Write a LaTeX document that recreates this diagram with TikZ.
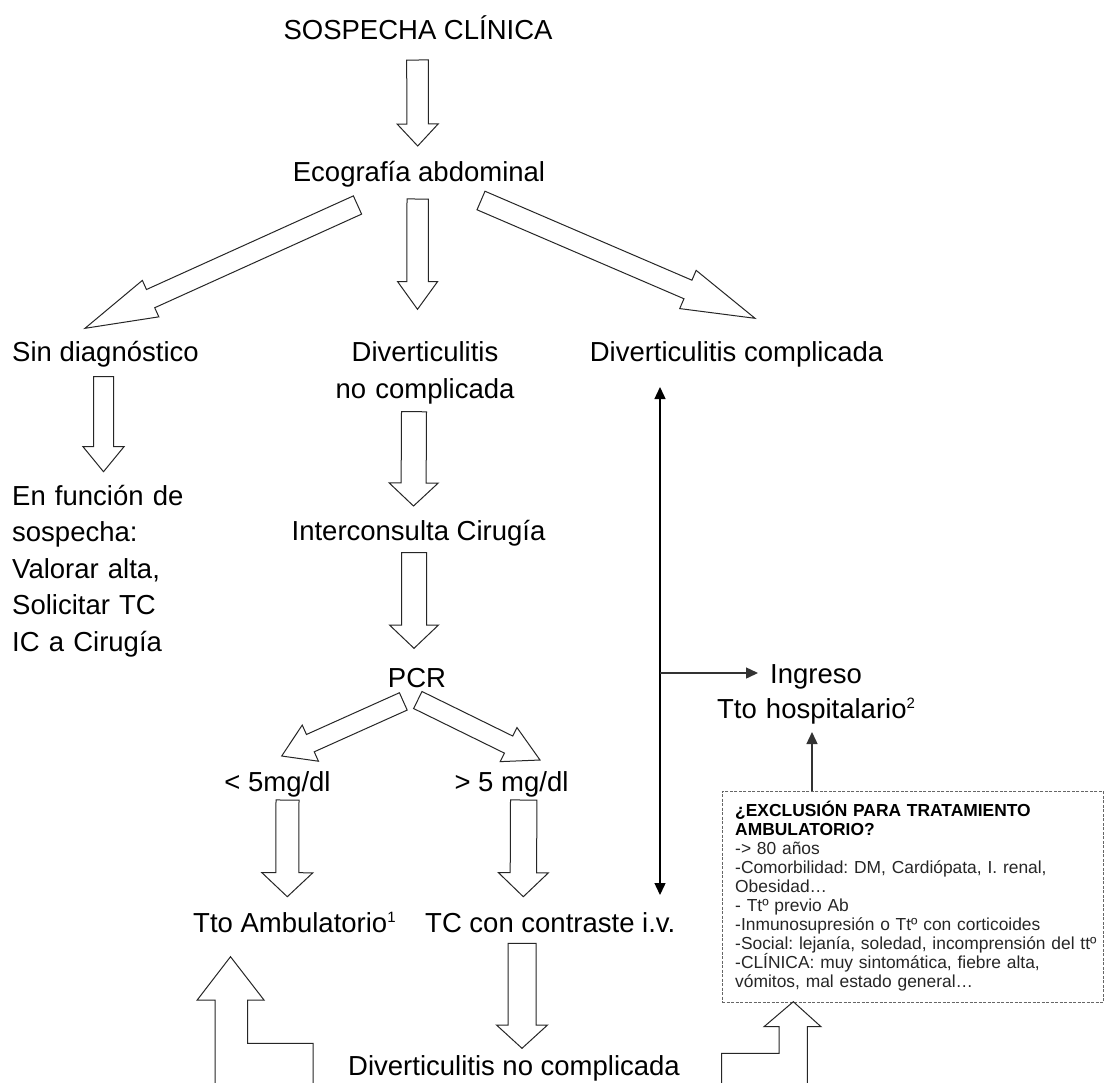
\documentclass[tikz,border=0pt]{standalone}
\usepackage{fontspec}
\setmainfont{Liberation Sans}
\usetikzlibrary{calc,arrows.meta}
\frenchspacing
\newcommand\blockarr[5]{%
  \coordinate (ba-h) at ($(#2)!#5!(#1)$);
  \draw[blockarrow] ($(#1)!#3!90:(#2)$) -- ($(ba-h)!#3!-90:(#1)$) -- ($(ba-h)!#4!-90:(#1)$) -- (#2) -- ($(ba-h)!#4!90:(#1)$) -- ($(ba-h)!#3!90:(#1)$) -- ($(#1)!#3!-90:(#2)$) -- cycle;
}
\newcommand\supnum[1]{\raisebox{10pt}{\fontsize{15pt}{15pt}\selectfont #1}}
\tikzset{
  txt/.style={inner sep=0pt, font=\fontsize{27.5pt}{33pt}\selectfont},
  blockarrow/.style={draw=black!85, line width=1pt, fill=white, line join=miter},
  thinarrow/.style={draw=black, line width=1.4pt, -{Triangle[length=12pt,width=11pt]}},
  exclbox/.style={draw=black!60, line width=1pt, dash pattern=on 3pt off 1.5pt, inner sep=0pt},
  boxtxt/.style={inner sep=0pt, text=black!85, font=\fontsize{17.4pt}{19.1pt}\selectfont}
}
\begin{document}
\begin{tikzpicture}[x=1pt,y=-1pt]
\useasboundingbox[fill=white] (0,0) rectangle (1107,1082);

% text nodes
\node[txt, anchor=base] (sosp) at (418,39.5) {SOSPECHA CLÍNICA};
\node[txt, anchor=base] (eco) at (419,181) {Ecografía abdominal};
\node[txt, anchor=base west] (sin) at (12,361) {Sin diagnóstico};
\node[txt, anchor=base, align=center, text width=260pt, font=\fontsize{27.5pt}{37pt}\selectfont] (dnc) at (425,361) {Diverticulitis\\no complicada};
\node[txt, anchor=base] (dc) at (736.5,361) {Diverticulitis complicada};
\node[txt, anchor=base west, align=left, text width=250pt, font=\fontsize{27.5pt}{36.5pt}\selectfont] (enf) at (12,505) {En función de\\sospecha:\\Valorar alta,\\Solicitar TC\\IC a Cirugía};
\node[txt, anchor=base] (ic) at (418.5,540) {Interconsulta Cirugía};
\node[txt, anchor=base] (pcr) at (417,687) {PCR};
\node[txt, anchor=base] (lt5) at (277.5,791) {< 5mg/dl};
\node[txt, anchor=base] (gt5) at (511.5,791) {> 5 mg/dl};
\node[txt, anchor=base west] (amb) at (193,932) {Tto Ambulatorio\supnum{1}};
\node[txt, anchor=base west] (tc) at (425,932) {TC con contraste i.v.};
\node[txt, anchor=base, align=center, text width=260pt, font=\fontsize{27.5pt}{35pt}\selectfont] (ing) at (816,683) {Ingreso\\Tto hospitalario\supnum{2}};
\node[txt, anchor=base west] (dnc2) at (348,1075) {Diverticulitis no complicada};

% exclusion box
\node[exclbox, anchor=north west, minimum width=381.3pt, minimum height=211pt] (excl) at (721.7,790.7) {};
\node[boxtxt, anchor=base west, align=left, text width=368pt] (excltxt) at (735,816) {%
{\bfseries\color{black}¿EXCLUSIÓN PARA TRATAMIENTO\\AMBULATORIO?}\\
-> 80 años\\
-Comorbilidad: DM, Cardiópata, I. renal,\\
Obesidad…\\
- Ttº previo Ab\\
-Inmunosupresión o Ttº con corticoides\\
-Social: lejanía, soledad, incomprensión del ttº\\
-CLÍNICA: muy sintomática, fiebre alta,\\
vómitos, mal estado general…};

% block arrow end points
\coordinate (a1s) at (417.5,60);   \coordinate (a1e) at (417.7,146);
\coordinate (a2s) at (357.5,205);  \coordinate (a2e) at (85,328.3);
\coordinate (a3s) at (417.7,199);  \coordinate (a3e) at (417.5,309.3);
\coordinate (a4s) at (481,200.5);  \coordinate (a4e) at (755,318.3);
\coordinate (a5s) at (103.5,376.7);\coordinate (a5e) at (103.5,471.7);
\coordinate (a6s) at (414,411.7);  \coordinate (a6e) at (413.5,506);
\coordinate (a7s) at (414,552.7);  \coordinate (a7e) at (414,648.3);
\coordinate (a8s) at (403.3,701.4);\coordinate (a8e) at (281.7,756);
\coordinate (a9s) at (417.8,700);  \coordinate (a9e) at (540,760);
\coordinate (a10s) at (287.5,800); \coordinate (a10e) at (287.3,896.7);
\coordinate (a11s) at (523.7,800); \coordinate (a11e) at (523.3,896.7);
\coordinate (a12s) at (522,943.3); \coordinate (a12e) at (522,1048.3);

\blockarr{a1s}{a1e}{10.8pt}{20.5pt}{22pt}
\blockarr{a2s}{a2e}{10pt}{20pt}{72pt}
\blockarr{a3s}{a3e}{10.7pt}{20pt}{27.7pt}
\blockarr{a4s}{a4e}{10.1pt}{20.8pt}{73pt}
\blockarr{a5s}{a5e}{10pt}{20.5pt}{25pt}
\blockarr{a6s}{a6e}{12.5pt}{24.5pt}{23pt}
\blockarr{a7s}{a7e}{12.5pt}{24.5pt}{23.3pt}
\blockarr{a8s}{a8e}{9.5pt}{19.8pt}{31.4pt}
\blockarr{a9s}{a9e}{9.5pt}{19pt}{35pt}
\blockarr{a10s}{a10e}{11.5pt}{25.5pt}{24pt}
\blockarr{a11s}{a11e}{13.2pt}{25pt}{24pt}
\blockarr{a12s}{a12e}{14pt}{25.5pt}{23.3pt}

% bent block arrows (cut by the lower edge)
\draw[blockarrow, fill=none] (215,1084) -- (215,1000) -- (197.2,1000) -- (230.5,956.7) -- (264,1000) -- (247.5,1000) -- (247.5,1043.3) -- (313.2,1043.3) -- (313.2,1084);
\draw[blockarrow, fill=none] (721.7,1084) -- (721.7,1053.3) -- (779,1053.3) -- (779,1026.7) -- (764,1026.7) -- (793.3,1001.7) -- (821,1026.7) -- (807.3,1026.7) -- (807.3,1084);

% thin connectors
\coordinate (dtop) at (660,387);
\coordinate (dbot) at (660,895);
\coordinate (dmid) at (660,673);
\coordinate (ingL) at (758,673);
\coordinate (upS) at (812,790.7);
\coordinate (upE) at (812,732);
\draw[thinarrow, {Triangle[length=12pt,width=11pt]}-{Triangle[length=12pt,width=11pt]}] (dtop) -- (dbot);
\draw[thinarrow, draw=black!80] (dmid) -- (ingL);
\draw[thinarrow, draw=black!80] (upS) -- (upE);
\end{tikzpicture}
\end{document}
